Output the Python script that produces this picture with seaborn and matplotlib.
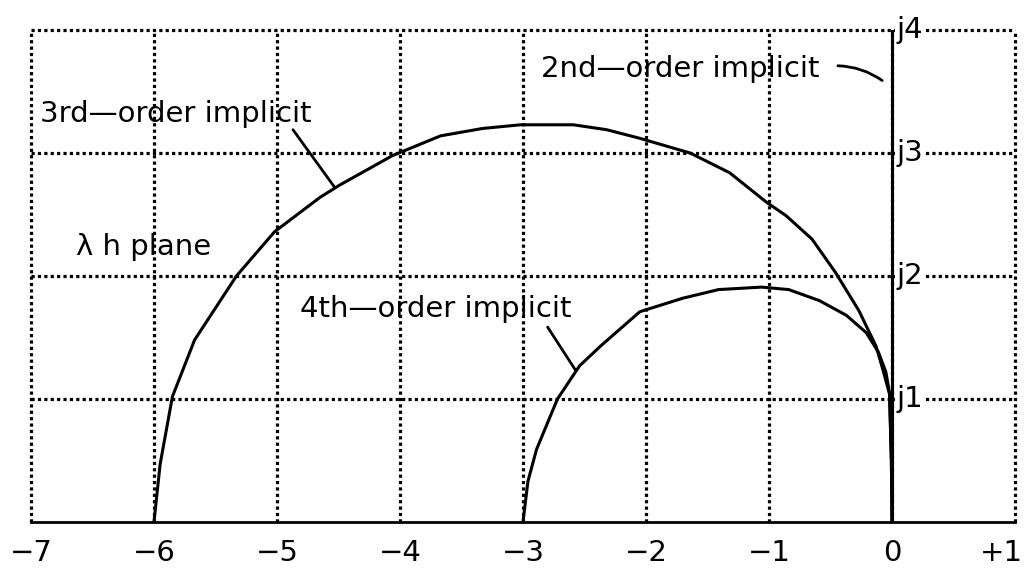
import matplotlib
matplotlib.use("Agg")
import matplotlib.pyplot as plt
import matplotlib.transforms as mtransforms
import seaborn as sns

# Stability boundaries in the complex lambda*h plane (real part, imaginary part)
third_re = [-6.0, -5.95, -5.85, -5.67, -5.33, -5.02, -4.65, -4.49, -4.06, -3.67,
            -3.33, -3.02, -2.59, -2.32, -2.05, -1.64, -1.32, -1.02, -0.86, -0.65,
            -0.46, -0.27, -0.13, -0.08, -0.02, -0.005, 0.0]
third_im = [0.0, 0.47, 1.02, 1.48, 2.0, 2.36, 2.64, 2.74, 2.98, 3.14,
            3.2, 3.23, 3.23, 3.19, 3.12, 3.0, 2.84, 2.6, 2.49, 2.3,
            2.03, 1.72, 1.43, 1.26, 1.04, 0.5, 0.0]

fourth_re = [-3.0, -2.96, -2.89, -2.72, -2.54, -2.37, -2.05, -1.70, -1.41, -1.06,
             -0.84, -0.59, -0.37, -0.21, -0.11, -0.05, -0.02, -0.005, 0.0]
fourth_im = [0.0, 0.33, 0.59, 1.0, 1.27, 1.43, 1.71, 1.82, 1.89, 1.91,
             1.89, 1.8, 1.68, 1.54, 1.38, 1.22, 1.05, 0.5, 0.0]

second_re = [0.0, 0.0]
second_im = [0.0, 4.0]

x_ticks = [-7, -6, -5, -4, -3, -2, -1, 0, 1]
x_tick_labels = ["\u22127", "\u22126", "\u22125", "\u22124", "\u22123",
                 "\u22122", "\u22121", "0", "+1"]
y_ticks = [1, 2, 3, 4]
y_tick_labels = ["j1", "j2", "j3", "j4"]

sns.set_theme(style="white")
plt.rcParams["font.family"] = ["DejaVu Sans"]
plt.rcParams["text.color"] = "black"
plt.rcParams["xtick.color"] = "black"

fig = plt.figure(figsize=(10.29, 5.68), dpi=100)
ax = fig.add_axes([0.0301, 0.081, 0.9563, 0.866])

lw_curve = 2.2
sns.lineplot(x=third_re, y=third_im, sort=False, estimator=None, color="black",
             lw=lw_curve, ax=ax, zorder=5)
sns.lineplot(x=fourth_re, y=fourth_im, sort=False, estimator=None, color="black",
             lw=lw_curve, ax=ax, zorder=5)
sns.lineplot(x=second_re, y=second_im, sort=False, estimator=None, color="black",
             lw=lw_curve, ax=ax, zorder=6)

ax.set_xlim(-7, 1)
ax.set_ylim(0, 4)

# dotted grid that also forms the frame on three sides
ax.set_xticks(x_ticks)
ax.set_xticklabels(x_tick_labels, fontsize=21, color="black")
ax.set_yticks(y_ticks)
ax.set_yticklabels([])
ax.grid(True, color="black", lw=2.3, ls=(0, (1.0, 1.0)))
for gl in ax.get_xgridlines() + ax.get_ygridlines():
    gl.set_clip_on(False)
ax.tick_params(axis="both", length=0)
ax.tick_params(axis="x", pad=12)

# keep the rightmost tick label inside the figure
last = ax.get_xticklabels()[-1]
last.set_transform(last.get_transform() +
                   mtransforms.ScaledTranslation(-10 / 72, 0, fig.dpi_scale_trans))

for side in ("left", "top", "right"):
    ax.spines[side].set_visible(False)
ax.spines["bottom"].set_color("black")
ax.spines["bottom"].set_linewidth(2.0)
ax.spines["bottom"].set_zorder(7)

# imaginary-axis labels sitting on the grid lines
for yv, lab in zip(y_ticks, y_tick_labels):
    ax.text(0.04, yv, lab, fontsize=21, ha="left", va="center", zorder=4,
            color="black",
            bbox=dict(facecolor="white", edgecolor="none", pad=1.0),
            clip_on=False)

fs = 21
ax.text(-6.93, 3.25, "3rd\u2014order implicit", fontsize=fs, ha="left",
        va="baseline", zorder=8, color="black")
ax.text(-2.85, 3.62, "2nd\u2014order implicit", fontsize=fs, ha="left",
        va="baseline", zorder=8, color="black")
ax.text(-6.63, 2.17, "\u03bb h plane", fontsize=fs, ha="left",
        va="baseline", zorder=8, color="black")
ax.text(-4.81, 1.67, "4th\u2014order implicit", fontsize=fs, ha="left",
        va="baseline", zorder=8, color="black")

# leader lines from the labels to their curves
ax.annotate("", xy=(-4.53, 2.72), xytext=(-4.87, 3.19),
            arrowprops=dict(arrowstyle="-", color="black", lw=2.0,
                            shrinkA=0, shrinkB=0))
ax.annotate("", xy=(-2.57, 1.23), xytext=(-2.80, 1.585),
            arrowprops=dict(arrowstyle="-", color="black", lw=2.0,
                            shrinkA=0, shrinkB=0))
ax.annotate("", xy=(-0.08, 3.59), xytext=(-0.44, 3.71),
            arrowprops=dict(arrowstyle="-", color="black", lw=2.0,
                            shrinkA=0, shrinkB=0,
                            connectionstyle="arc3,rad=-0.15"))

fig.savefig("out.png", dpi=100)
